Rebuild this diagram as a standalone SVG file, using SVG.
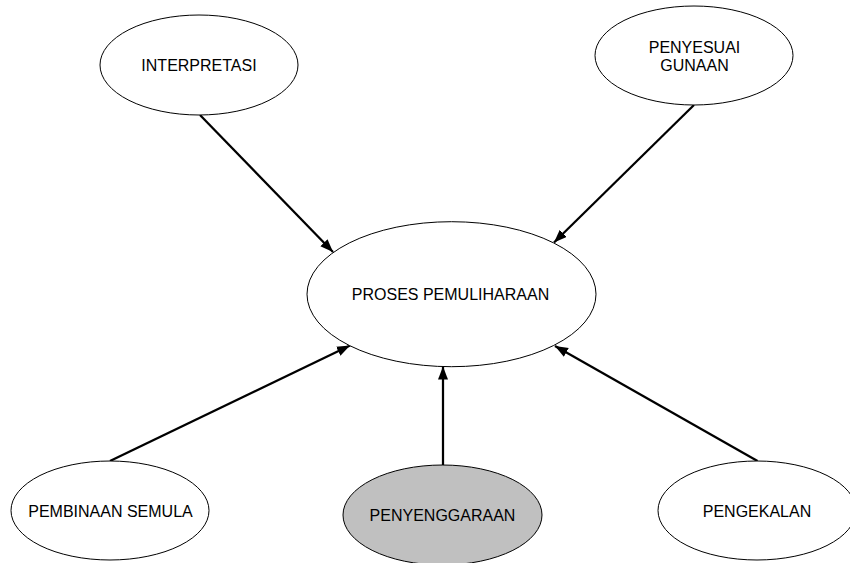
<svg xmlns="http://www.w3.org/2000/svg" width="850" height="563" viewBox="0 0 850 563">
<style>
.node ellipse{fill:#ffffff;stroke:#000000;stroke-width:1}
.node.grey ellipse{fill:#c0c0c0}
.node text{font-family:"Liberation Sans",Arial,sans-serif;font-size:16px;fill:#000000;text-anchor:middle}
.conn line{stroke:#000000;stroke-width:2.25;marker-end:url(#arrow)}
</style>
<defs>
<marker id="arrow" markerUnits="userSpaceOnUse" markerWidth="14" markerHeight="12" refX="13" refY="5" orient="auto">
<path d="M0,0 L13,5 L0,10 z" fill="#000000"/>
</marker>
</defs>
<rect width="850" height="563" fill="#ffffff"/>
<g id="connectors" class="conn">
<line x1="200" y1="115" x2="333" y2="252"/>
<line x1="694" y1="105" x2="554" y2="242.5"/>
<line x1="110" y1="461" x2="350" y2="345.5"/>
<line x1="443" y1="465" x2="443" y2="366.5"/>
<line x1="757.5" y1="461" x2="555" y2="346"/>
</g>
<g id="node-interpretasi" class="node">
<ellipse cx="199" cy="65" rx="99" ry="50"/>
<text x="199" y="70.5">INTERPRETASI</text>
</g>
<g id="node-penyesuai" class="node">
<ellipse cx="694" cy="55.5" rx="99" ry="49.5"/>
<text x="694.5" y="52.5">PENYESUAI</text>
<text x="694.5" y="71">GUNAAN</text>
</g>
<g id="node-proses" class="node">
<ellipse cx="451.5" cy="294.2" rx="144.5" ry="72.5"/>
<text x="450.5" y="300">PROSES PEMULIHARAAN</text>
</g>
<g id="node-pembinaan" class="node">
<ellipse cx="110" cy="510.5" rx="99" ry="49.5"/>
<text x="110.5" y="516.7">PEMBINAAN SEMULA</text>
</g>
<g id="node-penyenggaraan" class="node grey">
<ellipse cx="442.5" cy="515" rx="99.5" ry="50"/>
<text x="442.5" y="520.7">PENYENGGARAAN</text>
</g>
<g id="node-pengekalan" class="node">
<ellipse cx="757" cy="510.5" rx="99" ry="49.5"/>
<text x="757" y="516.7">PENGEKALAN</text>
</g>
</svg>
